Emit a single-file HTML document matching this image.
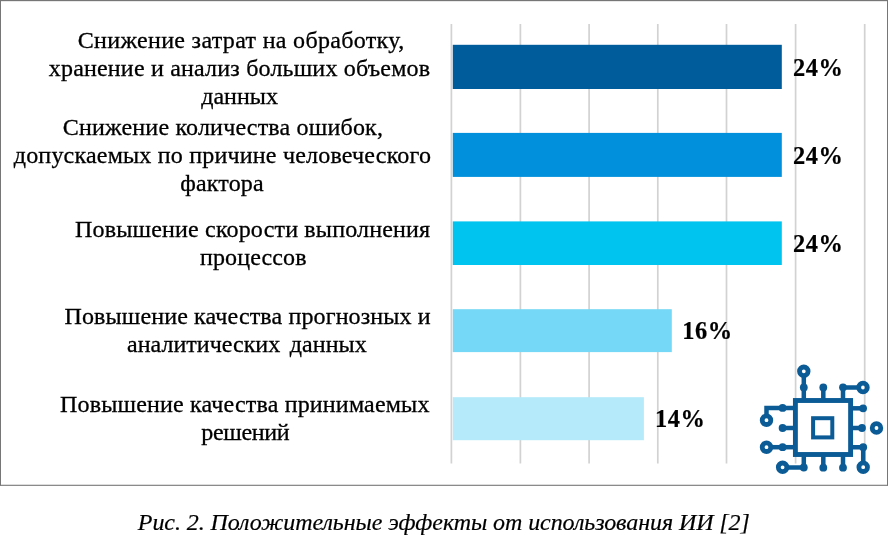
<!DOCTYPE html>
<html lang="ru"><head><meta charset="utf-8"><title>Рис. 2</title>
<style>
html,body{margin:0;padding:0;background:#fff;}
body{width:888px;height:535px;position:relative;overflow:hidden;font-family:"Liberation Serif",serif;color:#111;}
.frame{position:absolute;left:0;top:0;width:886px;height:484px;border:1px solid #767676;border-bottom-color:#8a8a8a;box-shadow:inset 0 -1px 0 #dcdcdc, inset 0 1px 0 #e8e8e8;}
.t{position:absolute;white-space:nowrap;font-size:24px;line-height:28px;height:28px;color:#000;-webkit-text-stroke:0.3px #000;}
.v{position:absolute;white-space:nowrap;font-size:24.4px;line-height:28px;height:28px;font-weight:bold;color:#000;-webkit-text-stroke:0.2px #000;letter-spacing:0.5px;}
.cap{position:absolute;white-space:nowrap;font-size:24px;line-height:28px;height:28px;font-style:italic;color:#000;-webkit-text-stroke:0.2px #000;}
svg{position:absolute;left:0;top:0;}
</style></head><body>
<div class="frame"></div>

<svg width="888" height="535" viewBox="0 0 888 535">
<g stroke="#d2d2d2" stroke-width="1.7">
<line x1="451.4" y1="24" x2="451.4" y2="463.6"/>
<line x1="520.4" y1="24" x2="520.4" y2="463.6"/>
<line x1="589.1" y1="24" x2="589.1" y2="463.6"/>
<line x1="657.8" y1="24" x2="657.8" y2="463.6"/>
<line x1="726.5" y1="24" x2="726.5" y2="463.6"/>
<line x1="795.6" y1="24" x2="795.6" y2="463.6"/>
<line x1="864.7" y1="24" x2="864.7" y2="463.6"/>
</g>
<rect x="452.8" y="44.8" width="329" height="44.2" fill="#005c9a"/>
<rect x="452.8" y="132.9" width="329" height="44.0" fill="#0090dc"/>
<rect x="452.8" y="221.4" width="329" height="43.6" fill="#00c4f0"/>
<rect x="452.8" y="309.2" width="219" height="42.9" fill="#74d8f6"/>
<rect x="452.8" y="397.2" width="191.1" height="43.0" fill="#b4eafa"/>
<g fill="none" stroke="#0b5c96" stroke-width="4.5">
<rect x="795.4" y="400.5" width="55.2" height="54" stroke-width="4.9"/>
<rect x="813.1" y="418.2" width="19.2" height="19.2" stroke-width="4"/>
<path d="M803.8 400V376"/>
<path d="M823.3 400V387.5"/>
<path d="M843 400V387.5H858.5"/>
<path d="M851 408.3H863"/>
<path d="M851 428H862"/>
<path d="M851 447.2H863.2V462.5"/>
<path d="M803.8 455V467.4H787.5"/>
<path d="M823.3 455V467.5"/>
<path d="M843 455V467.5"/>
<path d="M795 407.9H766.5V415.7"/>
<path d="M795 428H783"/>
<path d="M795 447.2H771"/>
<circle cx="803.8" cy="371.3" r="4.3" stroke-width="4.8"/>
<circle cx="863.0" cy="387.5" r="4.3" stroke-width="4.8"/>
<circle cx="876.5" cy="428.0" r="4.3" stroke-width="4.8"/>
<circle cx="863.2" cy="467.2" r="4.3" stroke-width="4.8"/>
<circle cx="782.6" cy="467.3" r="4.3" stroke-width="4.8"/>
<circle cx="766.5" cy="420.2" r="4.3" stroke-width="4.8"/>
<circle cx="766.5" cy="447.2" r="4.3" stroke-width="4.8"/>
</g>
<g fill="#0b5c96">
<circle cx="803.8" cy="387.5" r="3.9"/>
<circle cx="823.3" cy="387.5" r="3.9"/>
<circle cx="843.0" cy="387.3" r="3.9"/>
<circle cx="863.1" cy="408.3" r="3.9"/>
<circle cx="862.0" cy="428.0" r="3.9"/>
<circle cx="863.2" cy="447.2" r="3.9"/>
<circle cx="803.8" cy="467.5" r="3.9"/>
<circle cx="823.3" cy="467.7" r="3.9"/>
<circle cx="843.0" cy="467.7" r="3.9"/>
<circle cx="782.6" cy="407.9" r="3.9"/>
<circle cx="782.6" cy="428.0" r="3.9"/>
<circle cx="782.6" cy="447.2" r="3.9"/>
</g>
</svg>
<div class="t" id="t0" style="left:77.75px;top:25.90px;letter-spacing:0.321px">Снижение затрат на обработку,</div>
<div class="t" id="t1" style="left:48.75px;top:53.90px;letter-spacing:0.188px">хранение и анализ больших объемов</div>
<div class="t" id="t2" style="left:201.25px;top:81.90px;letter-spacing:0.000px">данных</div>
<div class="t" id="t3" style="left:62.75px;top:113.40px;letter-spacing:0.192px">Снижение количества ошибок,</div>
<div class="t" id="t4" style="left:13.75px;top:141.40px;letter-spacing:0.200px">допускаемых по причине человеческого</div>
<div class="t" id="t5" style="left:180.25px;top:169.40px;letter-spacing:0.167px">фактора</div>
<div class="t" id="t6" style="left:75.00px;top:215.20px;letter-spacing:0.179px">Повышение скорости выполнения</div>
<div class="t" id="t7" style="left:200.00px;top:243.20px;letter-spacing:0.125px">процессов</div>
<div class="t" id="t8" style="left:64.50px;top:302.20px;letter-spacing:0.133px">Повышение качества прогнозных и</div>
<div class="t" id="t9" style="left:127.00px;top:329.70px;letter-spacing:0.020px;word-spacing:3.60px">аналитических данных</div>
<div class="t" id="t10" style="left:60.00px;top:390.20px;letter-spacing:0.172px">Повышение качества принимаемых</div>
<div class="t" id="t11" style="left:201.25px;top:417.70px;letter-spacing:-0.333px">решений</div>
<div class="v" id="v0" style="left:793.00px;top:53.90px">24%</div>
<div class="v" id="v1" style="left:793.00px;top:141.90px">24%</div>
<div class="v" id="v2" style="left:793.00px;top:229.90px">24%</div>
<div class="v" id="v3" style="left:682.30px;top:316.95px">16%</div>
<div class="v" id="v4" style="left:655.00px;top:404.75px">14%</div>
<div class="cap" id="cap" style="left:137.80px;top:507.50px;letter-spacing:-0.077px">Рис. 2. Положительные эффекты от использования ИИ [2]</div>
</body></html>
